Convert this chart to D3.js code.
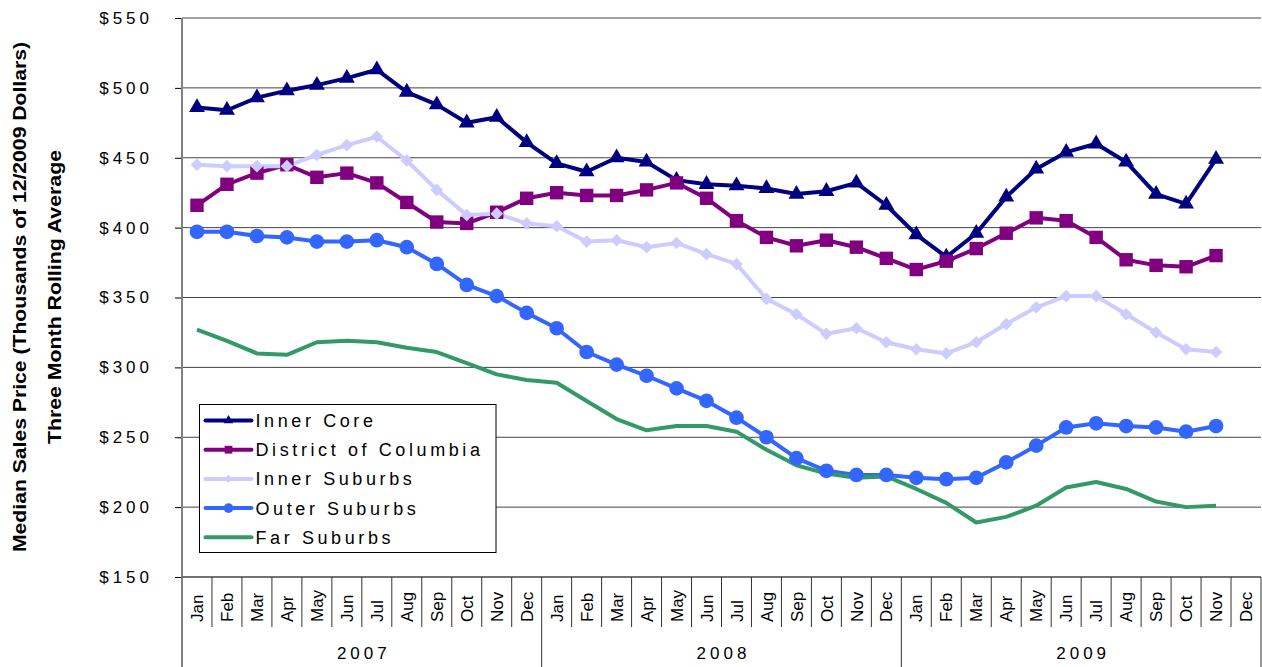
<!DOCTYPE html>
<html>
<head>
<meta charset="utf-8">
<script src="https://cdn.jsdelivr.net/npm/d3@7"></script>
<style>
  body { margin: 0; background: #fff; }
  text { font-family: "Liberation Sans", Arial, sans-serif; fill: #000; }
</style>
</head>
<body>
<div id="line_chart"></div>
<script>
// month / year labels
var months = ["Jan","Feb","Mar","Apr","May","Jun","Jul","Aug","Sep","Oct","Nov","Dec"];
var years = ["2007","2008","2009"];
var yTicks = [150, 200, 250, 300, 350, 400, 450, 500, 550];

// median sales price, thousands of 12/2009 dollars (Jan 2007 - Nov 2009)
var innerCore = [486,484,493,498,502,507,513,497,488,475,479,461,
                 446,440,450,447,434,431,430,428,424,426,432,416,
                 395,379,396,422,442,454,460,447,424,417,449];
var dcValues = [416,431,439,445,436,439,432,418,404,403,411,421,
                425,423,423,427,432,421,405,393,387,391,386,378,
                370,376,385,396,407,405,393,377,373,372,380];
var innerSuburbs = [445,444,444,444,452,459,465,448,427,409,410,403,
                    401,390,391,386,389,381,374,349,338,324,328,318,
                    313,310,318,331,343,351,351,338,325,313,311];
var outerSuburbs = [397,397,394,393,390,390,391,386,374,359,351,339,
                    328,311,302,294,285,276,264,250,235,226,223,223,
                    221,220,221,232,244,257,260,258,257,254,258];
var farSuburbs = [327,319,310,309,318,319,318,314,311,303,295,291,
                  289,276,263,255,258,258,254,241,230,224,221,222,
                  213,203,189,193,201,214,218,213,204,200,201];

var series = [
    {name: "Inner Core", values: innerCore, color: "#000080", marker: "triangle"},
    {name: "District of Columbia", values: dcValues, color: "#800080", marker: "square"},
    {name: "Inner Suburbs", values: innerSuburbs, color: "#CCCCFF", marker: "diamond"},
    {name: "Outer Suburbs", values: outerSuburbs, color: "#3366FF", marker: "circle"},
    {name: "Far Suburbs", values: farSuburbs, color: "#339966", marker: null}
];

var margin = {top: 18, right: 1, bottom: 90, left: 182},
    width = 1262 - margin.left - margin.right,
    height = 667 - margin.top - margin.bottom;

var svg = d3.select("#line_chart")
    .append("svg")
    .attr("width", 1262)
    .attr("height", 667)
    .append("g")
    .attr("transform", "translate(" + margin.left + "," + margin.top + ")");

// all 36 months as keys
var keys = [];
years.forEach(function(yr) { months.forEach(function(m) { keys.push(yr + "-" + m); }); });

var x = d3.scaleBand().domain(keys).range([0, width]).paddingInner(0).paddingOuter(0);
var y = d3.scaleLinear().domain([150, 550]).range([height, 0]);
var bw = x.bandwidth();

// gridlines
svg.append("g")
    .selectAll("line")
    .data(yTicks)
    .enter().append("line")
    .attr("x1", 0).attr("x2", width)
    .attr("y1", function(d) { return y(d); })
    .attr("y2", function(d) { return y(d); })
    .attr("stroke", "#444")
    .attr("stroke-width", 1);

// Y axis
var yAxis = svg.append("g")
    .call(d3.axisLeft(y).tickValues(yTicks).tickSize(7).tickPadding(22)
        .tickFormat(function(d) { return "$" + d; }));
yAxis.select(".domain").remove();
yAxis.selectAll(".tick line").attr("stroke", "#000");
yAxis.selectAll("text")
    .style("font-family", "'Liberation Sans', Arial, sans-serif")
    .style("font-size", "17px")
    .style("letter-spacing", "4px");

// left axis line runs down through the category labels
svg.append("line")
    .attr("x1", 0).attr("x2", 0)
    .attr("y1", 0).attr("y2", height + 90)
    .attr("stroke", "#808080")
    .attr("stroke-width", 2);

// X axis: months and years
svg.append("line")
    .attr("x1", 0).attr("x2", width)
    .attr("y1", height).attr("y2", height)
    .attr("stroke", "#444");

var xg = svg.append("g").attr("transform", "translate(0," + height + ")");
xg.selectAll(".msep")
    .data(keys)
    .enter().append("line")
    .attr("x1", function(d) { return x(d) + bw; })
    .attr("x2", function(d) { return x(d) + bw; })
    .attr("y1", 0)
    .attr("y2", function(d, i) { return (i % 12 == 11) ? 90 : 50; })
    .attr("stroke", "#333")
    .attr("stroke-width", 1);

xg.selectAll(".mlabel")
    .data(keys)
    .enter().append("text")
    .attr("transform", function(d) { return "translate(" + (x(d) + bw / 2) + ",45)rotate(-90)"; })
    .attr("dy", "0.36em")
    .style("font-size", "17px")
    .text(function(d) { return d.split("-")[1]; });

xg.selectAll(".ylabel")
    .data(years)
    .enter().append("text")
    .attr("x", function(d) { return x(d + "-Jan") + bw * 6 + 2; })
    .attr("y", 82)
    .attr("text-anchor", "middle")
    .style("font-size", "17px")
    .style("letter-spacing", "4px")
    .text(function(d) { return d; });

// axis titles
svg.append("text")
    .attr("transform", "translate(" + (-156) + "," + (297 - margin.top) + ")rotate(-90)")
    .attr("text-anchor", "middle")
    .attr("textLength", 510)
    .attr("lengthAdjust", "spacingAndGlyphs")
    .style("font-size", "19px")
    .style("font-weight", "bold")
    .text("Median Sales Price (Thousands of 12/2009 Dollars)");
svg.append("text")
    .attr("transform", "translate(" + (-121) + "," + (297 - margin.top) + ")rotate(-90)")
    .attr("text-anchor", "middle")
    .attr("textLength", 294)
    .attr("lengthAdjust", "spacingAndGlyphs")
    .style("font-size", "19px")
    .style("font-weight", "bold")
    .text("Three Month Rolling Average");

// lines
var line = d3.line()
    .x(function(d, i) { return x(keys[i]) + bw / 2; })
    .y(function(d) { return y(d); });

series.forEach(function(s) {
    svg.append("path")
        .datum(s.values)
        .attr("fill", "none")
        .attr("stroke", s.color)
        .attr("stroke-width", 4)
        .attr("stroke-linejoin", "round")
        .attr("d", line);
});

function markerPath(type, big) {
    if (type == "triangle") return d3.symbol().type(d3.symbolTriangle).size(big ? 110 : 40)();
    if (type == "square") return d3.symbol().type(d3.symbolSquare).size(big ? 180 : 60)();
    if (type == "diamond") return d3.symbol().type(d3.symbolSquare).size(big ? 80 : 35)();
    if (type == "circle") return d3.symbol().type(d3.symbolCircle).size(big ? 170 : 75)();
    return null;
}

series.forEach(function(s) {
    if (!s.marker) return;
    svg.append("g")
        .selectAll("path")
        .data(s.values)
        .enter().append("path")
        .attr("d", markerPath(s.marker, true))
        .attr("transform", function(d, i) {
            return "translate(" + (x(keys[i]) + bw / 2) + "," + y(d) + ")" + (s.marker == "diamond" ? "rotate(45)" : "");
        })
        .attr("fill", s.color);
});

// legend
var legend = svg.append("g").attr("transform", "translate(" + (199.5 - margin.left) + "," + (404.5 - margin.top) + ")");
legend.append("rect")
    .attr("width", 296.5)
    .attr("height", 148)
    .attr("fill", "#fff")
    .attr("stroke", "#000")
    .attr("stroke-width", 1);

var items = legend.selectAll(".item")
    .data(series)
    .enter().append("g")
    .attr("transform", function(d, i) { return "translate(0," + (16 + i * 29.2) + ")"; });
items.append("line")
    .attr("x1", 6).attr("x2", 52)
    .attr("stroke", function(d) { return d.color; })
    .attr("stroke-width", 4)
    .attr("stroke-linecap", "round");
items.filter(function(d) { return d.marker; })
    .append("path")
    .attr("d", function(d) { return markerPath(d.marker, false); })
    .attr("transform", function(d) { return "translate(29,0)" + (d.marker == "diamond" ? "rotate(45)" : ""); })
    .attr("fill", function(d) { return d.color; });
items.append("text")
    .attr("x", 56)
    .attr("dy", "0.36em")
    .style("font-size", "18px")
    .style("letter-spacing", "3.6px")
    .text(function(d) { return d.name; });
</script>
</body>
</html>
